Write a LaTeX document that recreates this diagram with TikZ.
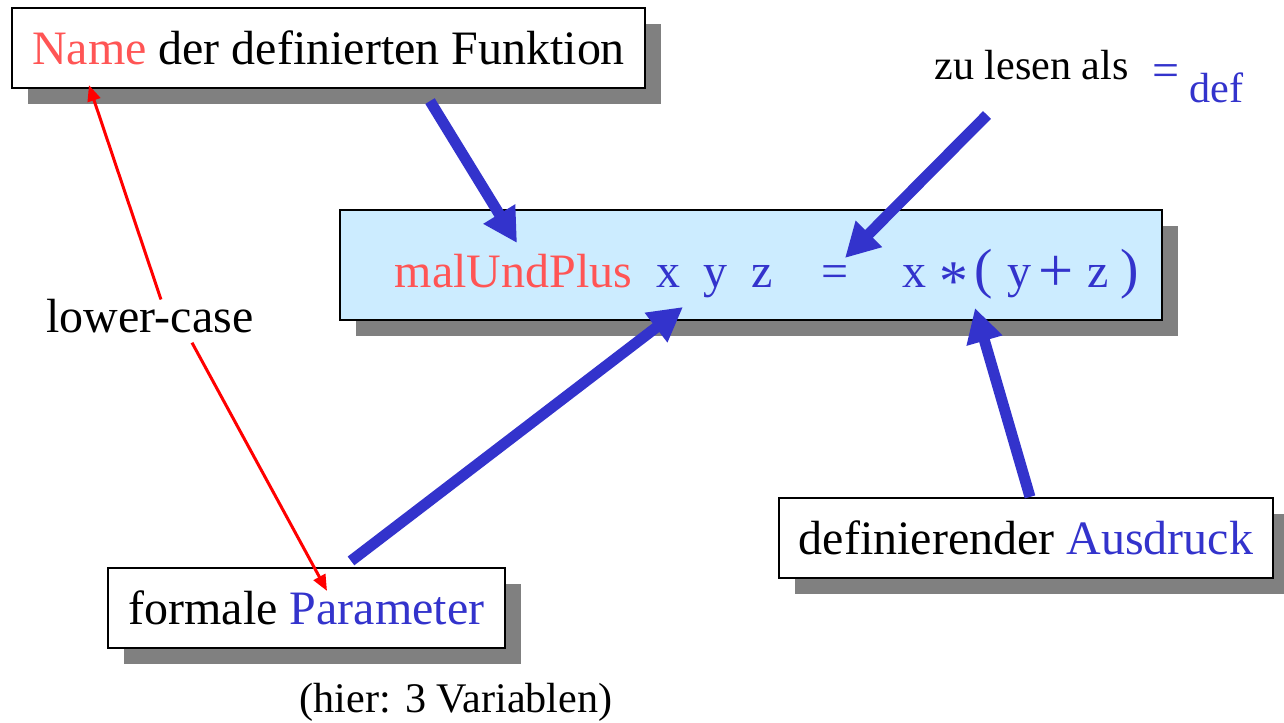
\documentclass[tikz,border=0pt]{standalone}
\usepackage{fontspec}
\usepackage{graphicx}
\setmainfont{Liberation Serif}
\usetikzlibrary{arrows.meta,shadows}
\definecolor{namered}{RGB}{255,85,85}
\definecolor{defblue}{RGB}{51,51,204}
\definecolor{boxblue}{RGB}{204,236,255}
\definecolor{shadowgray}{RGB}{128,128,128}

\begin{document}
\begin{tikzpicture}[>=Latex,
  font=\fontsize{27.3}{33}\selectfont,
  box/.style={draw,line width=1.2pt,fill=white,minimum height=1.6cm,inner xsep=0.4cm,
    drop shadow={shadow xshift=0.32cm,shadow yshift=-0.32cm,fill=shadowgray,opacity=1}},
  bigarrow/.style={-{Triangle[length=0.68cm,width=0.7cm]},defblue,line width=0.22cm},
  redarrow/.style={-{Triangle[length=0.32cm,width=0.26cm]},red,line width=0.06cm}]
  \useasboundingbox (0,0) rectangle (25.68,14.46);
  % the boxes
  \node[box,minimum width=12.66cm] (name) at (6.57,13.5) {\textcolor{namered}{Name} der definierten Funktion};
  \node[box,fill=boxblue,minimum width=16.44cm,minimum height=2.2cm] (mainbox) at (15.02,9.16) {};
  \node[box,minimum width=7.94cm] (param) at (6.13,2.3) {formale \textcolor{defblue}{Parameter}};
  \node[box,minimum width=9.88cm] (ausdruck) at (20.52,3.7) {definierender \textcolor{defblue}{Ausdruck}};
  % the definition itself
  \node[anchor=base west,inner sep=0,text=defblue] (formula) at (7.89,8.7)
    {\textcolor{namered}{malUndPlus}\hspace{0.48cm}x\hspace{0.46cm}y\hspace{0.48cm}z\hspace{0.98cm}=\hspace{1.08cm}x\hspace{0.26cm}\raisebox{-0.26em}{\scalebox{1.2}{*}}\hspace{0.13cm}\scalebox{1.15}{(}\hspace{0.29cm}y\hspace{0.14cm}\raisebox{-0.07em}{\scalebox{1.3}{+}}\hspace{0.27cm}z\hspace{0.25cm}\scalebox{1.15}{)}};
  % free labels
  \node[anchor=base west,inner sep=0,font=\fontsize{24}{29}\selectfont] (zulesen) at (18.68,12.86)
    {zu lesen als\hspace{0.48cm}\textcolor{defblue}{\raisebox{-0.14cm}{\fontsize{27.3}{33}\selectfont =}\hspace{0.2cm}\raisebox{-0.46cm}{def}}};
  \node[anchor=base] (lowercase) at (3.0,7.8) {lower-case};
  \node[anchor=base,font=\fontsize{24}{29}\selectfont] (hier) at (9.12,0.2) {(hier: 3 Variablen)};
  % arrow tips inside the blue box
  \coordinate (funtip) at (10.34,9.6);
  \coordinate (deftip) at (16.9,9.3);
  \coordinate (partip) at (13.66,8.32);
  \coordinate (exprtip) at (19.5,8.3);
  \draw[bigarrow] ([xshift=2.03cm,yshift=-0.24cm]name.south) -- (funtip);
  \draw[bigarrow] ([xshift=1.06cm,yshift=-0.7cm]zulesen.base west) -- (deftip);
  \draw[bigarrow] ([xshift=0.89cm,yshift=0.12cm]param.north) -- (partip);
  \draw[bigarrow] ([xshift=0.08cm]ausdruck.north) -- (exprtip);
  \draw[redarrow] ([xshift=0.22cm,yshift=-0.12cm]lowercase.north) -- ([xshift=1.56cm,yshift=0.08cm]name.south west);
  \draw[redarrow] ([xshift=0.84cm,yshift=-0.06cm]lowercase.south) -- ([xshift=0.41cm,yshift=-0.48cm]param.north);
\end{tikzpicture}
\end{document}
